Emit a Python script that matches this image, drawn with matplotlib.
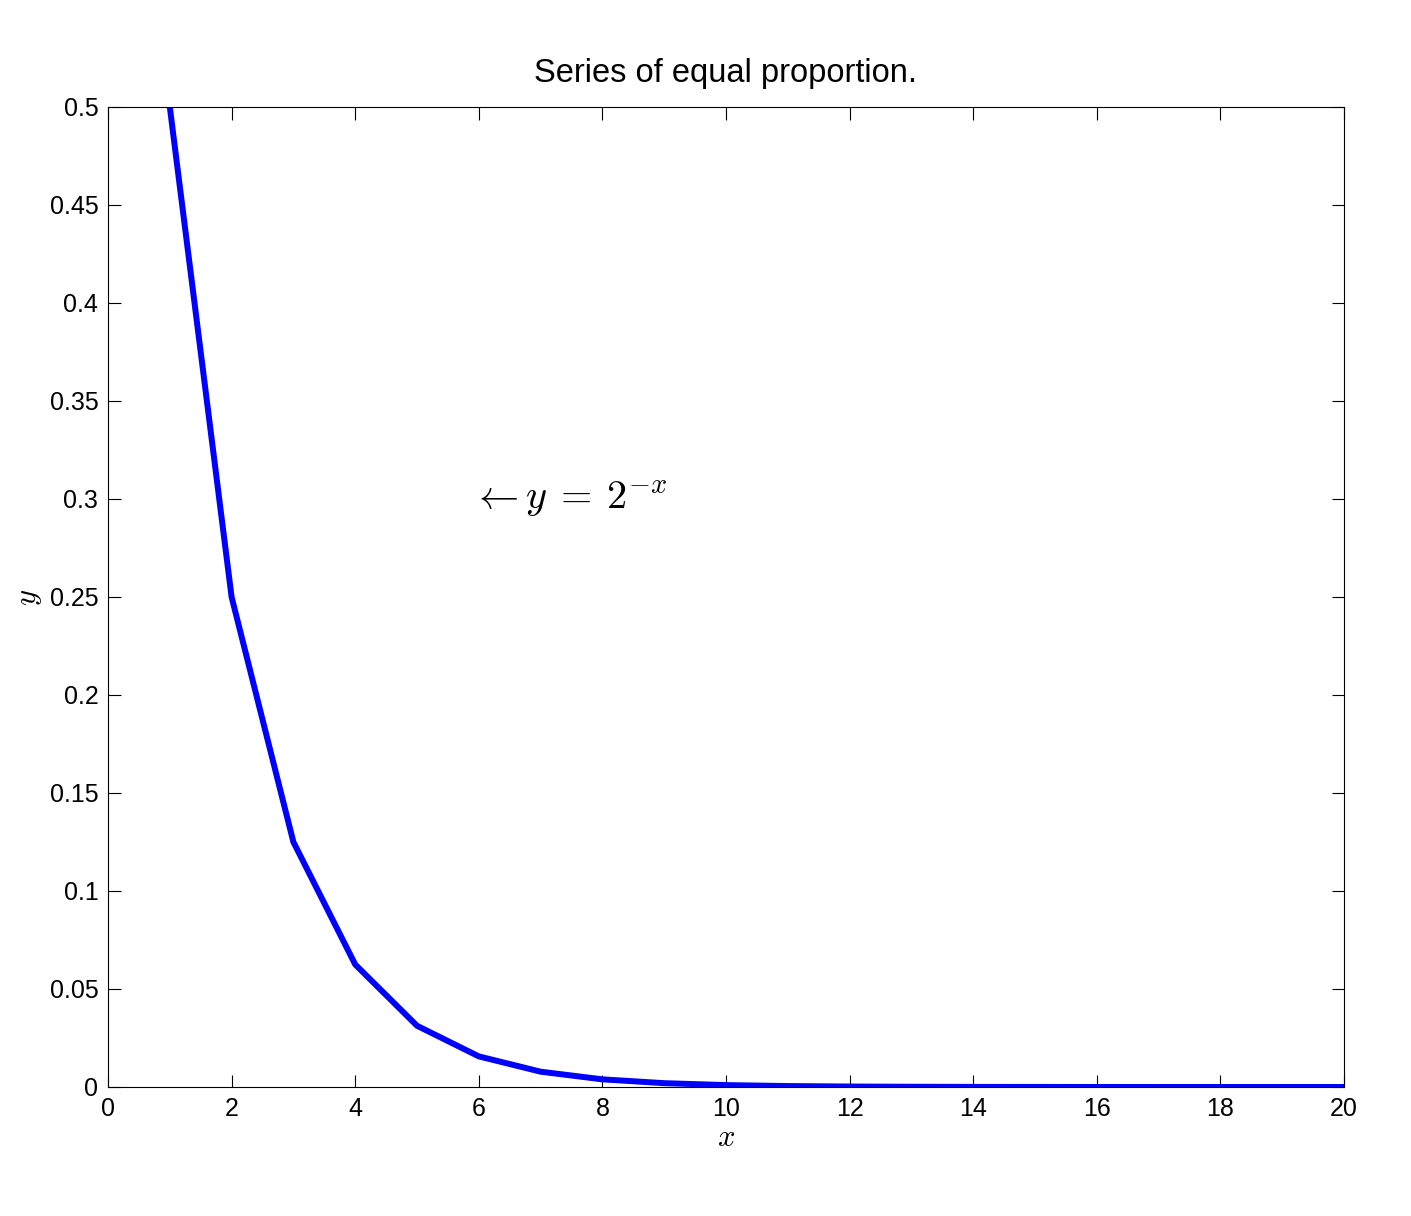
import matplotlib
matplotlib.use('Agg')
from matplotlib import pyplot as plt

plt.rcParams['font.family'] = ['Liberation Sans', 'DejaVu Sans']
plt.rcParams['mathtext.fontset'] = 'cm'

# y = 2^-x, vrijednosti ocitane s grafa
x_vals = [1, 2, 3, 4, 5, 6, 7, 8, 9, 10, 11, 12, 13, 14, 15, 16, 17, 18, 19, 20]
y_vals = [0.5, 0.25, 0.125, 0.0625, 0.03125, 0.015625, 0.0078125, 0.00390625,
          0.001953125, 0.0009765625, 0.00048828125, 0.000244140625,
          0.0001220703125, 0.00006103515625, 0.000030517578125,
          0.0000152587890625, 0.00000762939453125, 0.000003814697265625,
          0.0000019073486328125, 0.00000095367431640625]
x_ticks = [0, 2, 4, 6, 8, 10, 12, 14, 16, 18, 20]
y_ticks = [0, 0.05, 0.1, 0.15, 0.2, 0.25, 0.3, 0.35, 0.4, 0.45, 0.5]
y_tick_labels = ['0', '0.05', '0.1', '0.15', '0.2', '0.25', '0.3', '0.35', '0.4', '0.45', '0.5']

fig = plt.figure(figsize=(14.11, 12.16), dpi=100)
ax = fig.add_axes([108/1411, 1 - 1087/1216, (1344 - 108)/1411, (1087 - 107)/1216])

ax.plot(x_vals, y_vals, color=(0, 0, 1), linewidth=4.3, solid_joinstyle='round')

ax.set_xlim(0, 20)
ax.set_ylim(0, 0.5)
ax.set_xticks(x_ticks)
ax.set_yticks(y_ticks)
ax.set_yticklabels(y_tick_labels)
ax.tick_params(direction='in', top=True, right=True, length=9, width=0.8,
               labelsize=18, pad=7)
for s in ax.spines.values():
    s.set_linewidth(0.8)

ax.set_title('Series of equal proportion.', fontsize=23.5, pad=18)
ax.set_xlabel('$x$', fontsize=22, labelpad=2)
ax.set_ylabel('$y$', fontsize=22, labelpad=4)

ax.text(5.88, 0.3, r'$\leftarrow y\:=\:2^{-x}$', fontsize=29, ha='left', va='center')

fig.savefig('out.png', dpi=100)
